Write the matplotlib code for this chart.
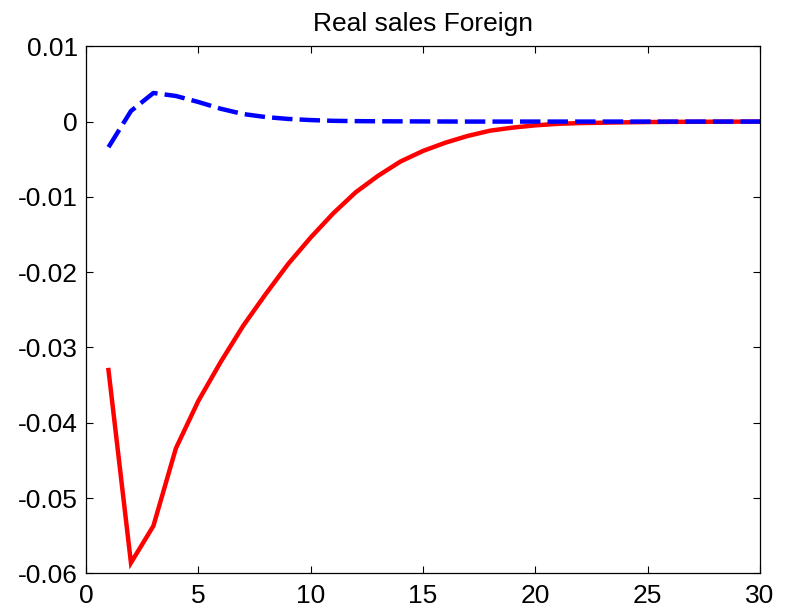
import matplotlib
matplotlib.use("Agg")
import matplotlib.pyplot as plt

periods = list(range(1, 31))
red_vals = [-0.0330, -0.0586, -0.0537, -0.0434, -0.0371, -0.0319, -0.0271, -0.0229,
            -0.0189, -0.0154, -0.0122, -0.0094, -0.0072, -0.0053, -0.0039, -0.0028,
            -0.0019, -0.0012, -0.0008, -0.0005, -0.0003, -0.0002, -0.00015, -0.0001,
            -0.00006, -0.00004, -0.00003, -0.00002, -0.00001, 0.0]
blue_vals = [-0.0034, 0.0014, 0.0038, 0.0034, 0.0026, 0.0017, 0.0010, 0.0006,
             0.00035, 0.0002, 0.0001, 0.00006, 0.00004, 0.00003, 0.00002, 0.00001,
             0.0, 0.0, 0.0, 0.0, 0.0, 0.0, 0.0, 0.0, 0.0, 0.0, 0.0, 0.0, 0.0, 0.0]
title = "Real sales Foreign"
xticks = [0, 5, 10, 15, 20, 25, 30]
yticks = [-0.06, -0.05, -0.04, -0.03, -0.02, -0.01, 0, 0.01]
ytick_labels = ["-0.06", "-0.05", "-0.04", "-0.03", "-0.02", "-0.01", "0", "0.01"]

plt.rcParams['font.family'] = ['Liberation Sans', 'DejaVu Sans']
fig = plt.figure(figsize=(7.92, 6.13), dpi=100)
ax = fig.add_axes([0.1086, 0.0647, 0.851, 0.8598])
ax.plot(periods, red_vals, color='#ff0000', linewidth=3.2, solid_joinstyle='miter')
ax.plot(periods, blue_vals, color='#0000ff', linewidth=3.2, linestyle=(0, (4.6, 1.6)))
ax.set_xlim(0, 30)
ax.set_ylim(-0.06, 0.01)
ax.set_xticks(xticks)
ax.set_xticklabels([str(t) for t in xticks])
ax.set_yticks(yticks)
ax.set_yticklabels(ytick_labels)
ax.tick_params(direction='in', top=True, right=True, length=5, width=0.8,
               labelsize=19)
ax.tick_params(axis='x', pad=8)
ax.tick_params(axis='y', pad=6)
for s in ax.spines.values():
    s.set_linewidth(0.9)
ax.set_title(title, fontsize=19, pad=11)
fig.savefig("out.png", dpi=100)
